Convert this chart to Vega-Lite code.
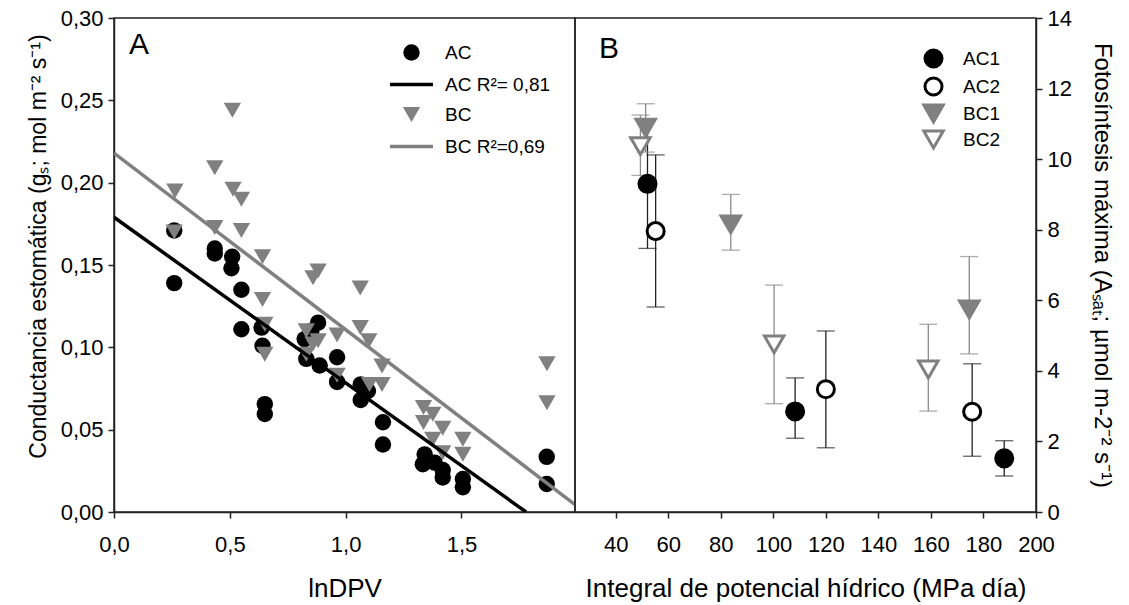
{
  "$schema": "https://vega.github.io/schema/vega-lite/v6.json",
  "autosize": {"type": "pad"},
  "padding": {"left": 26, "top": 6, "right": 6, "bottom": 0},
  "background": "white",
  "bounds": "flush",
  "spacing": 0,
  "config": {
    "font": "Liberation Sans",
    "view": {"stroke": "#222222", "strokeWidth": 1.5},
    "axis": {
      "labelFont": "Liberation Sans", "titleFont": "Liberation Sans",
      "labelFontSize": 22, "titleFontSize": 26, "titleFontWeight": "normal",
      "labelColor": "black", "titleColor": "black",
      "domainColor": "#222222", "tickColor": "#222222", "domainWidth": 1.5, "tickWidth": 1.5,
      "grid": false, "tickSize": 6, "labelPadding": 5, "labelOverlap": false, "labelFlush": false
    }
  },
  "datasets": {
    "pointsA": [
      {"g": "AC", "x": 0.26, "y": 0.171}, {"g": "AC", "x": 0.26, "y": 0.139},
      {"g": "AC", "x": 0.435, "y": 0.160}, {"g": "AC", "x": 0.435, "y": 0.157},
      {"g": "AC", "x": 0.51, "y": 0.155}, {"g": "AC", "x": 0.507, "y": 0.148},
      {"g": "AC", "x": 0.55, "y": 0.135}, {"g": "AC", "x": 0.55, "y": 0.111},
      {"g": "AC", "x": 0.637, "y": 0.112}, {"g": "AC", "x": 0.641, "y": 0.101},
      {"g": "AC", "x": 0.651, "y": 0.0655}, {"g": "AC", "x": 0.651, "y": 0.0595},
      {"g": "AC", "x": 0.881, "y": 0.115}, {"g": "AC", "x": 0.852, "y": 0.110},
      {"g": "AC", "x": 0.823, "y": 0.105}, {"g": "AC", "x": 0.83, "y": 0.093},
      {"g": "AC", "x": 0.888, "y": 0.089}, {"g": "AC", "x": 0.963, "y": 0.094},
      {"g": "AC", "x": 0.963, "y": 0.079}, {"g": "AC", "x": 1.065, "y": 0.0775},
      {"g": "AC", "x": 1.096, "y": 0.0735}, {"g": "AC", "x": 1.065, "y": 0.068},
      {"g": "AC", "x": 1.161, "y": 0.0545}, {"g": "AC", "x": 1.161, "y": 0.041},
      {"g": "AC", "x": 1.341, "y": 0.035}, {"g": "AC", "x": 1.333, "y": 0.029},
      {"g": "AC", "x": 1.384, "y": 0.030}, {"g": "AC", "x": 1.419, "y": 0.0255},
      {"g": "AC", "x": 1.419, "y": 0.021}, {"g": "AC", "x": 1.506, "y": 0.020},
      {"g": "AC", "x": 1.506, "y": 0.015}, {"g": "AC", "x": 1.868, "y": 0.0335},
      {"g": "AC", "x": 1.868, "y": 0.017},
      {"g": "BC", "x": 0.263, "y": 0.195}, {"g": "BC", "x": 0.26, "y": 0.170},
      {"g": "BC", "x": 0.435, "y": 0.209}, {"g": "BC", "x": 0.435, "y": 0.1727},
      {"g": "BC", "x": 0.511, "y": 0.244}, {"g": "BC", "x": 0.514, "y": 0.196},
      {"g": "BC", "x": 0.55, "y": 0.190}, {"g": "BC", "x": 0.55, "y": 0.171},
      {"g": "BC", "x": 0.641, "y": 0.155}, {"g": "BC", "x": 0.641, "y": 0.129},
      {"g": "BC", "x": 0.651, "y": 0.114}, {"g": "BC", "x": 0.651, "y": 0.0958},
      {"g": "BC", "x": 0.881, "y": 0.1464}, {"g": "BC", "x": 0.859, "y": 0.1423},
      {"g": "BC", "x": 0.83, "y": 0.110}, {"g": "BC", "x": 0.881, "y": 0.104},
      {"g": "BC", "x": 0.859, "y": 0.102}, {"g": "BC", "x": 0.83, "y": 0.0958},
      {"g": "BC", "x": 0.963, "y": 0.1075}, {"g": "BC", "x": 0.963, "y": 0.083},
      {"g": "BC", "x": 1.063, "y": 0.136}, {"g": "BC", "x": 1.063, "y": 0.112},
      {"g": "BC", "x": 1.1, "y": 0.104}, {"g": "BC", "x": 1.157, "y": 0.0887},
      {"g": "BC", "x": 1.103, "y": 0.0775}, {"g": "BC", "x": 1.157, "y": 0.0775},
      {"g": "BC", "x": 1.336, "y": 0.0634}, {"g": "BC", "x": 1.376, "y": 0.0593},
      {"g": "BC", "x": 1.336, "y": 0.0543}, {"g": "BC", "x": 1.419, "y": 0.0508},
      {"g": "BC", "x": 1.376, "y": 0.0442}, {"g": "BC", "x": 1.506, "y": 0.0442},
      {"g": "BC", "x": 1.419, "y": 0.036}, {"g": "BC", "x": 1.506, "y": 0.035},
      {"g": "BC", "x": 1.869, "y": 0.0901}, {"g": "BC", "x": 1.869, "y": 0.0664}
    ],
    "linesA": [
      {"g": "AC R²= 0,81", "x": 0, "y": 0.179}, {"g": "AC R²= 0,81", "x": 1.779, "y": 0},
      {"g": "BC R²=0,69", "x": 0, "y": 0.218}, {"g": "BC R²=0,69", "x": 1.99, "y": 0.0045}
    ],
    "pointsB": [
      {"g": "AC1", "x": 52.1, "y": 9.30, "lo": 7.47, "hi": 11.13},
      {"g": "AC1", "x": 108.3, "y": 2.85, "lo": 2.09, "hi": 3.80},
      {"g": "AC1", "x": 187.9, "y": 1.52, "lo": 1.02, "hi": 2.02},
      {"g": "AC2", "x": 55.2, "y": 7.96, "lo": 5.81, "hi": 10.12},
      {"g": "AC2", "x": 120.0, "y": 3.48, "lo": 1.82, "hi": 5.13},
      {"g": "AC2", "x": 175.7, "y": 2.84, "lo": 1.58, "hi": 4.20},
      {"g": "BC1", "x": 51.4, "y": 10.89, "lo": 10.2, "hi": 11.57},
      {"g": "BC1", "x": 83.8, "y": 8.15, "lo": 7.42, "hi": 9.0},
      {"g": "BC1", "x": 174.6, "y": 5.74, "lo": 4.48, "hi": 7.24},
      {"g": "BC2", "x": 49.4, "y": 10.37, "lo": 9.54, "hi": 11.25},
      {"g": "BC2", "x": 100.3, "y": 4.75, "lo": 3.07, "hi": 6.43},
      {"g": "BC2", "x": 159.0, "y": 4.04, "lo": 2.86, "hi": 5.32}
    ]
  },
  "resolve": {"scale": {"fill": "independent", "stroke": "independent", "shape": "independent", "size": "independent", "strokeWidth": "independent"}},
  "hconcat": [
    {
      "width": 461, "height": 494,
      "layer": [
        {
          "data": {"name": "pointsA"},
          "mark": {"type": "point", "filled": true, "opacity": 1},
          "encoding": {
            "x": {"field": "x", "type": "quantitative", "scale": {"domain": [0, 1.99], "nice": false, "zero": false},
                  "axis": {"title": "lnDPV", "values": [0, 0.5, 1, 1.5], "labelExpr": "replace(format(datum.value, '.1f'), '.', ',')", "labelPadding": 16, "titlePadding": 20}},
            "y": {"field": "y", "type": "quantitative", "scale": {"domain": [0, 0.3], "nice": false},
                  "axis": {"title": "Conductancia estomática (gₛ; mol m⁻² s⁻¹)", "titleFontSize": 23, "titleY": 228, "values": [0, 0.05, 0.1, 0.15, 0.2, 0.25, 0.3], "labelExpr": "replace(format(datum.value, '.2f'), '.', ',')", "titlePadding": 10}},
            "shape": {"field": "g", "type": "nominal", "scale": {"domain": ["AC", "AC R²= 0,81", "BC", "BC R²=0,69"], "range": ["circle", "M-2.3,0H2.3", "triangle-down", "M-2.3,0H2.3"]},
                      "legend": {"orient": "none", "legendX": 286, "legendY": 25, "title": null, "labelFontSize": 19, "labelColor": "black", "rowPadding": 10, "labelOffset": 22, "padding": 0}},
            "fill": {"field": "g", "type": "nominal", "scale": {"domain": ["AC", "AC R²= 0,81", "BC", "BC R²=0,69"], "range": ["black", "black", "#808080", "#808080"]},
                     "legend": {"orient": "none", "legendX": 286, "legendY": 25, "title": null, "labelFontSize": 19, "labelColor": "black", "rowPadding": 10, "labelOffset": 22, "padding": 0}},
            "stroke": {"field": "g", "type": "nominal", "scale": {"domain": ["AC", "AC R²= 0,81", "BC", "BC R²=0,69"], "range": ["black", "black", "#808080", "#808080"]},
                       "legend": {"orient": "none", "legendX": 286, "legendY": 25, "title": null, "labelFontSize": 19, "labelColor": "black", "rowPadding": 10, "labelOffset": 22, "padding": 0}},
            "size": {"field": "g", "type": "nominal", "scale": {"type": "ordinal", "domain": ["AC", "AC R²= 0,81", "BC", "BC R²=0,69"], "range": [270, 350, 300, 350]},
                     "legend": {"orient": "none", "legendX": 286, "legendY": 25, "title": null, "labelFontSize": 19, "labelColor": "black", "rowPadding": 10, "labelOffset": 22, "padding": 0}},
            "strokeWidth": {"field": "g", "type": "nominal", "scale": {"type": "ordinal", "domain": ["AC", "AC R²= 0,81", "BC", "BC R²=0,69"], "range": [0, 3.5, 0, 3.5]},
                     "legend": {"orient": "none", "legendX": 286, "legendY": 25, "title": null, "labelFontSize": 19, "labelColor": "black", "rowPadding": 10, "labelOffset": 22, "padding": 0}}
          }
        },
        {
          "data": {"name": "linesA"},
          "mark": {"type": "line", "clip": true, "strokeWidth": 3.5},
          "encoding": {
            "x": {"field": "x", "type": "quantitative"},
            "y": {"field": "y", "type": "quantitative"},
            "stroke": {"condition": {"test": "indexof(datum.g, 'AC') == 0", "value": "black"}, "value": "#808080"},
            "detail": {"field": "g"}
          }
        },
        {
          "data": {"values": [{"panel": "A"}]},
          "mark": {"type": "text", "fontSize": 30, "align": "left", "baseline": "alphabetic", "color": "black", "font": "Liberation Sans"},
          "encoding": {
            "x": {"datum": 0.065, "type": "quantitative"},
            "y": {"datum": 0.278, "type": "quantitative"},
            "text": {"field": "panel"}
          }
        }
      ]
    },
    {
      "width": 461, "height": 494,
      "data": {"name": "pointsB"},
      "layer": [
        {
          "mark": {"type": "rule", "strokeWidth": 1.3},
          "encoding": {
            "x": {"field": "x", "type": "quantitative", "scale": {"domain": [24.5, 200], "nice": false, "zero": false},
                  "axis": {"title": "Integral de potencial hídrico (MPa día)", "values": [40, 60, 80, 100, 120, 140, 160, 180, 200], "labelPadding": 16, "titlePadding": 20}},
            "y": {"field": "lo", "type": "quantitative", "scale": {"domain": [0, 14], "nice": false},
                  "axis": {"orient": "right", "title": "Fotosíntesis máxima (Aₛₐₜ; µmol m-2⁻² s⁻¹)", "titleFontSize": 24, "values": [0, 2, 4, 6, 8, 10, 12, 14], "titlePadding": 18}},
            "y2": {"field": "hi"},
            "stroke": {"condition": {"test": "indexof(datum.g, 'AC') == 0", "value": "#222222"}, "value": "#8a8a8a"}
          }
        },
        {
          "mark": {"type": "point", "shape": "stroke", "size": 324, "strokeWidth": 1.3},
          "encoding": {
            "x": {"field": "x", "type": "quantitative"},
            "y": {"field": "lo", "type": "quantitative"},
            "stroke": {"condition": {"test": "indexof(datum.g, 'AC') == 0", "value": "#222222"}, "value": "#8a8a8a"}
          }
        },
        {
          "mark": {"type": "point", "shape": "stroke", "size": 324, "strokeWidth": 1.3},
          "encoding": {
            "x": {"field": "x", "type": "quantitative"},
            "y": {"field": "hi", "type": "quantitative"},
            "stroke": {"condition": {"test": "indexof(datum.g, 'AC') == 0", "value": "#222222"}, "value": "#8a8a8a"}
          }
        },
        {
          "mark": {"type": "point", "filled": true, "opacity": 1, "strokeWidth": 3},
          "encoding": {
            "x": {"field": "x", "type": "quantitative"},
            "y": {"field": "y", "type": "quantitative"},
            "shape": {"field": "g", "type": "nominal", "scale": {"domain": ["AC1", "AC2", "BC1", "BC2"], "range": ["circle", "circle", "triangle-down", "triangle-down"]},
                      "legend": {"orient": "none", "legendX": 347, "legendY": 30, "title": null, "labelFontSize": 19, "labelColor": "black", "rowPadding": -3, "labelOffset": 18, "padding": 0, "symbolStrokeWidth": 3}},
            "fill": {"field": "g", "type": "nominal", "scale": {"domain": ["AC1", "AC2", "BC1", "BC2"], "range": ["black", "white", "#808080", "white"]},
                      "legend": {"orient": "none", "legendX": 347, "legendY": 30, "title": null, "labelFontSize": 19, "labelColor": "black", "rowPadding": -3, "labelOffset": 18, "padding": 0, "symbolStrokeWidth": 3}},
            "stroke": {"field": "g", "type": "nominal", "scale": {"domain": ["AC1", "AC2", "BC1", "BC2"], "range": ["black", "black", "#808080", "#808080"]},
                      "legend": {"orient": "none", "legendX": 347, "legendY": 30, "title": null, "labelFontSize": 19, "labelColor": "black", "rowPadding": -3, "labelOffset": 18, "padding": 0, "symbolStrokeWidth": 3}},
            "size": {"field": "g", "type": "nominal", "scale": {"type": "ordinal", "domain": ["AC1", "AC2", "BC1", "BC2"], "range": [290, 290, 380, 380]},
                      "legend": {"orient": "none", "legendX": 347, "legendY": 30, "title": null, "labelFontSize": 19, "labelColor": "black", "rowPadding": -3, "labelOffset": 18, "padding": 0, "symbolStrokeWidth": 3}}
          }
        },
        {
          "data": {"values": [{"panel": "B"}]},
          "mark": {"type": "text", "fontSize": 30, "align": "left", "baseline": "alphabetic", "color": "black", "font": "Liberation Sans"},
          "encoding": {
            "x": {"datum": 33.6, "type": "quantitative"},
            "y": {"datum": 12.86, "type": "quantitative"},
            "text": {"field": "panel"}
          }
        }
      ]
    }
  ]
}
